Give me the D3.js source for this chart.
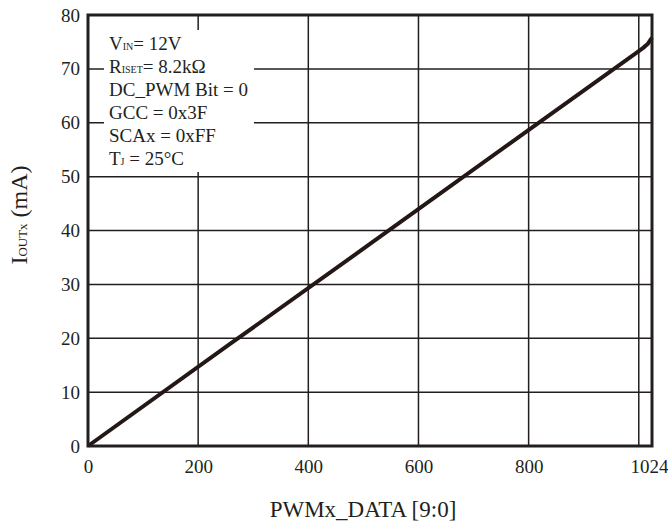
<!DOCTYPE html>
<meta charset="utf-8">
<style>
  body, html { margin:0; padding:0; background:#fff; }
  svg { display:block; }
  text { font-family: "Liberation Serif", "Times New Roman", serif; fill:#231f20; }
</style>
<body>
<svg width="668" height="526"></svg>
<script src="https://d3js.org/d3.v7.min.js"></script>
<script>
// data
var pwmData = [0, 256, 512, 768, 1000, 1008, 1016, 1024];
var ioutMa  = [0, 18.8, 37.5, 56.3, 73.3, 73.9, 74.6, 75.8];
var xTicks = [0, 200, 400, 600, 800, 1024];
var xGrid = [200, 400, 600, 800, 1000];
var yTicks = [0, 10, 20, 30, 40, 50, 60, 70, 80];
var notes = [
  ["V", "IN", "= 12V"],
  ["R", "ISET", "= 8.2k\u03a9"],
  ["DC_PWM Bit = 0", "", ""],
  ["GCC = 0x3F", "", ""],
  ["SCAx = 0xFF", "", ""],
  ["T", "J", " = 25\u00b0C"]
];

var ink = "#231f20";
var svg = d3.select("svg");
var margin = {top: 15, right: 16, bottom: 80, left: 88},
    width = 668 - margin.left - margin.right,
    height = 526 - margin.top - margin.bottom;

var g = svg.append("g").attr("transform", "translate(" + margin.left + "," + margin.top + ")");

var x = d3.scaleLinear().domain([0, 1024]).range([0, width]);
var y = d3.scaleLinear().domain([0, 80]).range([height, 0]);

// grid
g.selectAll(".vgrid").data(xGrid).enter().append("line")
    .attr("x1", x).attr("x2", x).attr("y1", 0).attr("y2", height)
    .attr("stroke", ink).attr("stroke-width", 1.5);
g.selectAll(".hgrid").data(yTicks.slice(1, -1)).enter().append("line")
    .attr("x1", 0).attr("x2", width).attr("y1", y).attr("y2", y)
    .attr("stroke", ink).attr("stroke-width", 1.5);

// axes (labels only)
var xAxis = g.append("g").attr("transform", "translate(0," + height + ")")
    .call(d3.axisBottom(x).tickValues(xTicks).tickSize(0).tickPadding(10).tickFormat(d3.format("d")));
var yAxis = g.append("g")
    .call(d3.axisLeft(y).tickValues(yTicks).tickSize(0).tickPadding(8));
[xAxis, yAxis].forEach(function(a) {
  a.select(".domain").remove();
  a.selectAll("text").style("font-family", "Liberation Serif, serif").style("font-size", "19px").attr("fill", ink);
});
xAxis.selectAll(".tick text").attr("dy", "0.9em")
    .attr("dx", function(d) { return d === 1024 ? -3 : 0; });
yAxis.selectAll(".tick text").attr("dy", "0.32em");

// annotation box
var box = g.append("g").attr("transform", "translate(16,15)");
box.append("rect").attr("width", 150).attr("height", 142).attr("fill", "#fff");
var lines = box.selectAll(".note").data(notes).enter().append("text")
    .attr("x", 5).attr("y", function(d, i) { return 20 + i * 23; })
    .style("font-size", "19px");
lines.append("tspan").text(function(d) { return d[0]; });
lines.append("tspan").style("font-size", "10px").text(function(d) { return d[1]; });
lines.append("tspan").text(function(d) { return d[2]; });

// curve
var pts = pwmData.map(function(d, i) { return [d, ioutMa[i]]; });
g.append("path").datum(pts)
    .attr("fill", "none").attr("stroke", "#231815").attr("stroke-width", 4)
    .attr("stroke-linejoin", "round")
    .attr("d", d3.line().x(function(d) { return x(d[0]); }).y(function(d) { return y(d[1]); }));

// frame
g.append("rect").attr("width", width).attr("height", height)
    .attr("fill", "none").attr("stroke", ink).attr("stroke-width", 3);

// titles
svg.append("text").attr("x", margin.left + width / 2 - 7).attr("y", 517)
    .attr("text-anchor", "middle").style("font-size", "23px").text("PWMx_DATA [9:0]");
var yt = svg.append("text").attr("transform", "translate(27,215) rotate(-90)")
    .attr("text-anchor", "middle").style("font-size", "24px");
yt.append("tspan").text("I");
yt.append("tspan").style("font-size", "13px").text("OUTx");
yt.append("tspan").text(" (mA)");
</script>
</body>
